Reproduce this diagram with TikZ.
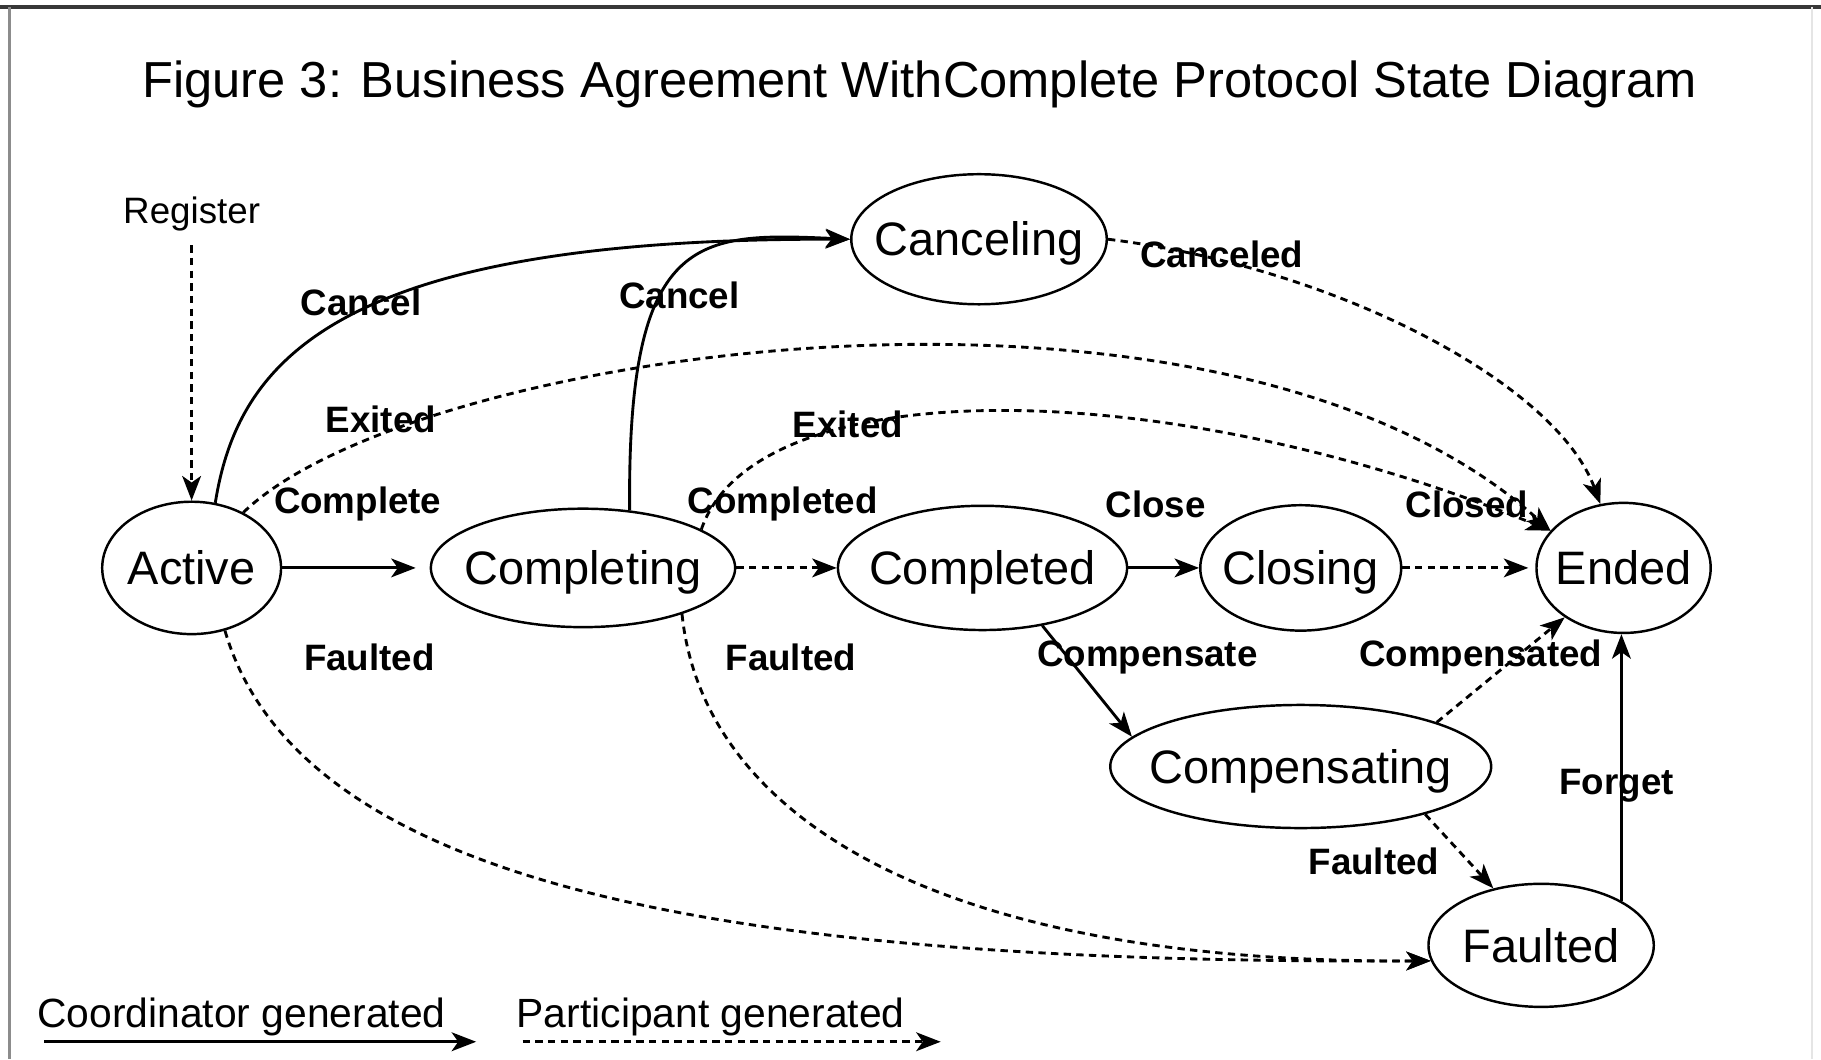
\documentclass[tikz,border=0pt]{standalone}
\usepackage{fontspec}
\setmainfont{Liberation Sans}
\usetikzlibrary{shapes.geometric,arrows.meta,positioning}

\tikzset{
    state/.style={ellipse, draw, line width=0.6pt, inner xsep=-6pt, inner ysep=0pt,
        text height=8.2pt, text depth=0pt, font=\fontsize{11.5}{13}\selectfont},
    lbl/.style={inner sep=0pt, font=\bfseries\fontsize{9}{11}\selectfont},
    coordarrow/.style={line width=0.7pt, -{Stealth[length=6pt,width=4.6pt,inset=1.6pt]}},
    partarrow/.style={coordarrow, dash pattern=on 1.8pt off 1.3pt},
}

\begin{document}
\begin{tikzpicture}[x=1cm, y=-1cm]
    \useasboundingbox (0,0) rectangle (15.68,9.12);
    % frame
    \draw[line width=0.9pt, black!78] (0,0.063) -- (15.68,0.063);
    \draw[line width=0.6pt, black!45] (0.08,0.063) -- (0.08,9.12);
    \draw[line width=0.5pt, black!10] (15.60,0.063) -- (15.60,9.12);

    \node[font=\fontsize{12.4}{15}\selectfont] (title) at (7.92,0.73)
        {Figure 3: Business Agreement WithComplete Protocol State Diagram};

    % states
    \node[state, minimum width=1.54cm, minimum height=1.14cm] (active) at (1.65,4.89) {Active};
    \node[state, minimum width=2.62cm, minimum height=1.02cm] (completing) at (5.02,4.89) {Completing};
    \node[state, minimum width=2.49cm, minimum height=1.07cm] (completed) at (8.46,4.89) {Completed};
    \node[state, minimum width=1.73cm, minimum height=1.08cm] (closing) at (11.20,4.89) {Closing};
    \node[state, minimum width=1.50cm, minimum height=1.12cm] (ended) at (13.98,4.89) {Ended};
    \node[state, minimum width=2.20cm, minimum height=1.12cm] (canceling) at (8.43,2.06) {Canceling};
    \node[state, minimum width=3.28cm, minimum height=1.06cm] (compensating) at (11.20,6.60) {Compensating};
    \node[state, minimum width=1.94cm, minimum height=1.06cm] (faulted) at (13.27,8.14) {Faulted};

    \node[font=\fontsize{9}{11}\selectfont] (register) at (1.65,1.84) {Register};

    % transitions
    \draw[partarrow] (register) -- (active);
    \draw[coordarrow, shorten >=0.12cm] (active) -- (completing);
    \draw[partarrow] (completing) -- (completed);
    \draw[coordarrow] (completed) -- (closing);
    \draw[partarrow, shorten >=0.06cm] (closing) -- (ended);

    \draw[coordarrow] (active.70) .. controls (2.05,3.10) and (2.90,2.05) .. (canceling.west);
    \draw[coordarrow] (completing.51) .. controls (5.40,2.00) and (6.00,2.00) .. (canceling.west);
    \draw[partarrow] (canceling.east) .. controls (11.50,2.30) and (13.40,3.30) .. (ended.110);
    \draw[partarrow] (active.47) .. controls (3.55,3.00) and (10.50,2.00) .. (ended.153);
    \draw[partarrow] (completing.18) .. controls (6.50,3.20) and (10.00,3.20) .. (ended.153);
    \draw[partarrow] (active.-62) .. controls (2.60,7.70) and (6.50,8.30) .. (faulted.188);
    \draw[partarrow] (completing.-25) .. controls (6.05,7.00) and (8.00,8.30) .. (faulted.188);
    \draw[coordarrow] (completed.-44) -- (compensating.170);
    \draw[partarrow] (compensating.18) -- (ended.220);
    \draw[partarrow] (compensating.-21) -- (faulted.130);
    \draw[coordarrow] (faulted.29) -- (faulted.29 |- ended.south);

    % transition labels
    \node[lbl] (cancelA) at (3.11,2.60) {Cancel};
    \node[lbl] (cancelB) at (5.85,2.54) {Cancel};
    \node[lbl] (canceled) at (10.52,2.19) {Canceled};
    \node[lbl] (exitedA) at (3.28,3.61) {Exited};
    \node[lbl] (exitedB) at (7.30,3.65) {Exited};
    \node[lbl] (complete) at (3.08,4.34) {Complete};
    \node[lbl] (completedL) at (6.74,4.34) {Completed};
    \node[lbl] (close) at (9.95,4.34) {Close};
    \node[lbl] (closed) at (12.63,4.34) {Closed};
    \node[lbl] (faultedA) at (3.18,5.66) {Faulted};
    \node[lbl] (faultedB) at (6.81,5.66) {Faulted};
    \node[lbl] (compensate) at (9.88,5.66) {Compensate};
    \node[lbl] (compensated) at (12.75,5.66) {Compensated};
    \node[lbl] (forget) at (13.92,6.77) {Forget};
    \node[lbl] (faultedC) at (11.83,7.42) {Faulted};

    % legend
    \node[font=\fontsize{10}{12}\selectfont] (coordtext) at (2.08,8.76) {Coordinator generated};
    \node[font=\fontsize{10}{12}\selectfont] (parttext) at (6.12,8.76) {Participant generated};
    \coordinate (cstart) at (0.38,8.97);
    \coordinate (cend) at (4.10,8.97);
    \coordinate (pstart) at (4.50,8.97);
    \coordinate (pend) at (8.10,8.97);
    \draw[coordarrow] (cstart) -- (cend);
    \draw[partarrow] (pstart) -- (pend);
\end{tikzpicture}
\end{document}
